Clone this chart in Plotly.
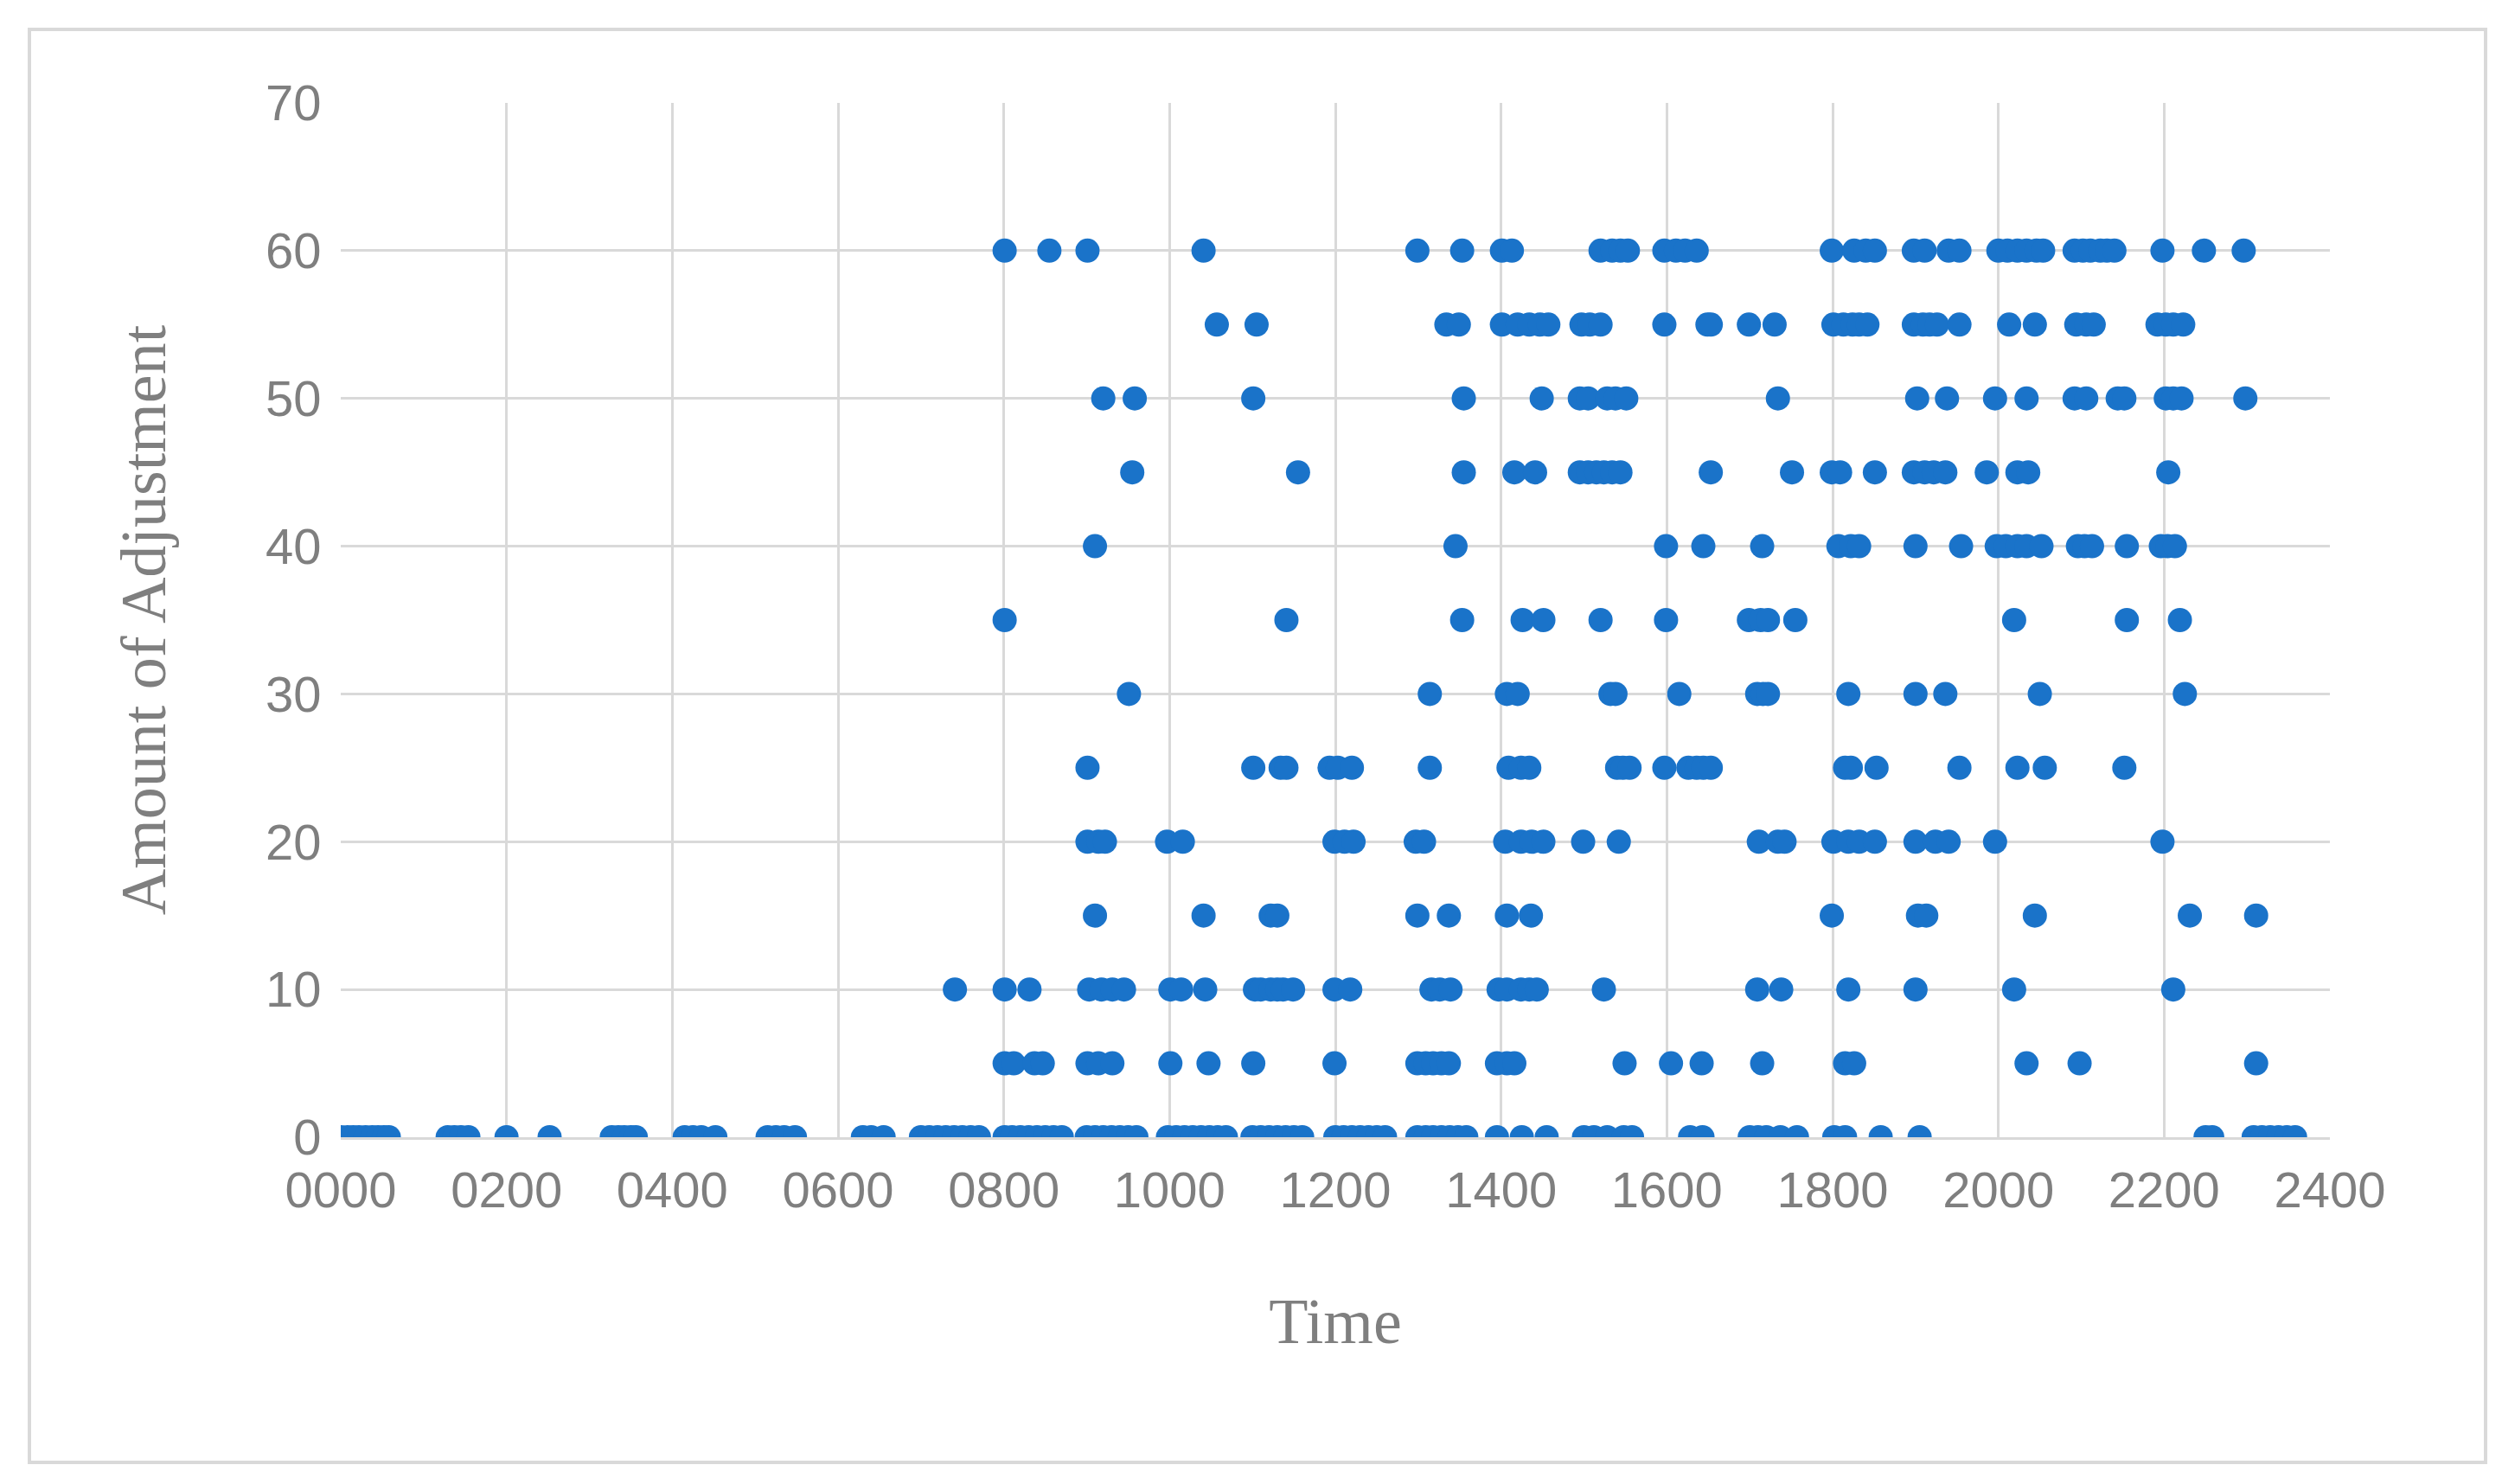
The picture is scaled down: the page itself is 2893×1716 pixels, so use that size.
import plotly.graph_objects as go

t60=[801,855,901,1041,1299,1353,1401,1413,1520,1534,1544,1553,1597,1611,1622,1636,1799,1826,1840,1851,1898,1911,1940,1953,2000,2011,2023,2034,2046,2054,2092,2102,2111,2123,2131,2140,2198,2248,2296]
t55=[1057,1105,1334,1349,1401,1420,1434,1447,1457,1497,1507,1520,1597,1649,1653,1699,1730,1801,1813,1824,1832,1842,1898,1909,1917,1926,1953,2013,2044,2094,2106,2115,2192,2202,2211,2223]
t50=[920,958,1101,1355,1449,1495,1505,1528,1538,1551,1734,1902,1938,1996,2034,2092,2106,2144,2152,2202,2211,2221,2298]
t45=[955,1155,1355,1416,1441,1495,1505,1515,1524,1534,1544,1653,1751,1799,1809,1851,1898,1911,1922,1936,1986,2023,2036,2205]
t40=[910,1345,1599,1644,1715,1807,1822,1832,1900,1955,1998,2009,2023,2034,2052,2096,2104,2113,2155,2196,2204,2213]
t35=[801,1141,1353,1426,1451,1520,1599,1699,1713,1722,1755,2019,2155,2219]
t30=[951,1314,1407,1420,1532,1538,1615,1709,1716,1722,1819,1900,1936,2050,2225]
t25=[901,1101,1134,1141,1193,1203,1220,1314,1409,1424,1434,1540,1547,1555,1597,1626,1636,1644,1653,1815,1822,1853,1953,2023,2056,2152]
t20=[901,914,922,997,1016,1199,1211,1222,1297,1307,1405,1424,1437,1451,1499,1542,1711,1734,1742,1801,1819,1832,1851,1900,1924,1940,1996,2198]
t15=[910,1041,1122,1130,1299,1337,1407,1436,1799,1903,1913,2044,2231,2311]
t10=[741,801,831,903,918,931,945,1001,1014,1043,1103,1110,1122,1130,1137,1149,1199,1218,1316,1326,1339,1397,1407,1424,1434,1443,1524,1709,1738,1819,1900,2019,2211]
t5=[801,812,837,847,901,914,931,1001,1047,1101,1199,1299,1309,1318,1328,1337,1395,1407,1416,1549,1605,1642,1715,1815,1826,2034,2098,2311]
t0=[0,8,15,22,30,38,45,52,58,129,137,145,154,200,252,327,335,342,350,356,415,425,435,452,515,525,535,548,630,640,655,700,710,720,730,740,750,760,770,801,810,820,830,840,850,860,870,900,910,920,930,940,950,960,998,1008,1018,1028,1038,1048,1058,1068,1100,1110,1120,1130,1140,1150,1160,1200,1210,1220,1230,1240,1250,1260,1299,1309,1318,1328,1338,1348,1358,1395,1425,1455,1500,1512,1528,1548,1558,1628,1643,1700,1710,1720,1737,1757,1802,1815,1858,1905,2250,2258,2308,2318,2328,2338,2348,2358]

levels=[(60,t60),(55,t55),(50,t50),(45,t45),(40,t40),(35,t35),(30,t30),(25,t25),(20,t20),(15,t15),(10,t10),(5,t5),(0,t0)]
xs=[];ys=[]
for y,ts in levels:
    xs+=ts; ys+=[y]*len(ts)

xticks=[0,200,400,600,800,1000,1200,1400,1600,1800,2000,2200,2400]
xticklabels=[f"{v:04d}" for v in xticks]

L,R,T,B=386,207,111,409
fig=go.Figure(go.Scatter(x=xs,y=ys,mode="markers",marker=dict(size=28,color="#1a73c9")))
grey="#7f7f7f"
pw=2893-L-R; ph=1716-T-B
fig.update_layout(width=2893,height=1716,paper_bgcolor="white",plot_bgcolor="white",
    margin=dict(l=L,r=R,t=T,b=B),showlegend=False,
    font=dict(family="Liberation Sans, Arial",size=58,color=grey),
    xaxis=dict(range=[0,2400],tickvals=xticks,ticktext=xticklabels,showgrid=True,gridcolor="#d9d9d9",gridwidth=3,
        showline=True,linecolor="#d9d9d9",linewidth=3,zeroline=False,ticks="outside",ticklen=8,tickcolor="white",
        title=dict(text="Time",font=dict(family="Liberation Serif",size=74,color=grey),standoff=95)),
    yaxis=dict(range=[0,70],dtick=10,showgrid=True,gridcolor="#d9d9d9",gridwidth=3,zeroline=False,ticks="outside",ticklen=10,tickcolor="white",
        title=dict(text="Amount of Adjustment",font=dict(family="Liberation Serif",size=74,color=grey),standoff=90)),
    shapes=[dict(type="rect",xref="paper",yref="paper",x0=(26-L)/pw,x1=(2866-L)/pw,y0=(1716-B-1683)/ph,y1=(1716-B-26)/ph,
        line=dict(color="#d9d9d9",width=4),layer="below")])
fig.write_html("out.html")
